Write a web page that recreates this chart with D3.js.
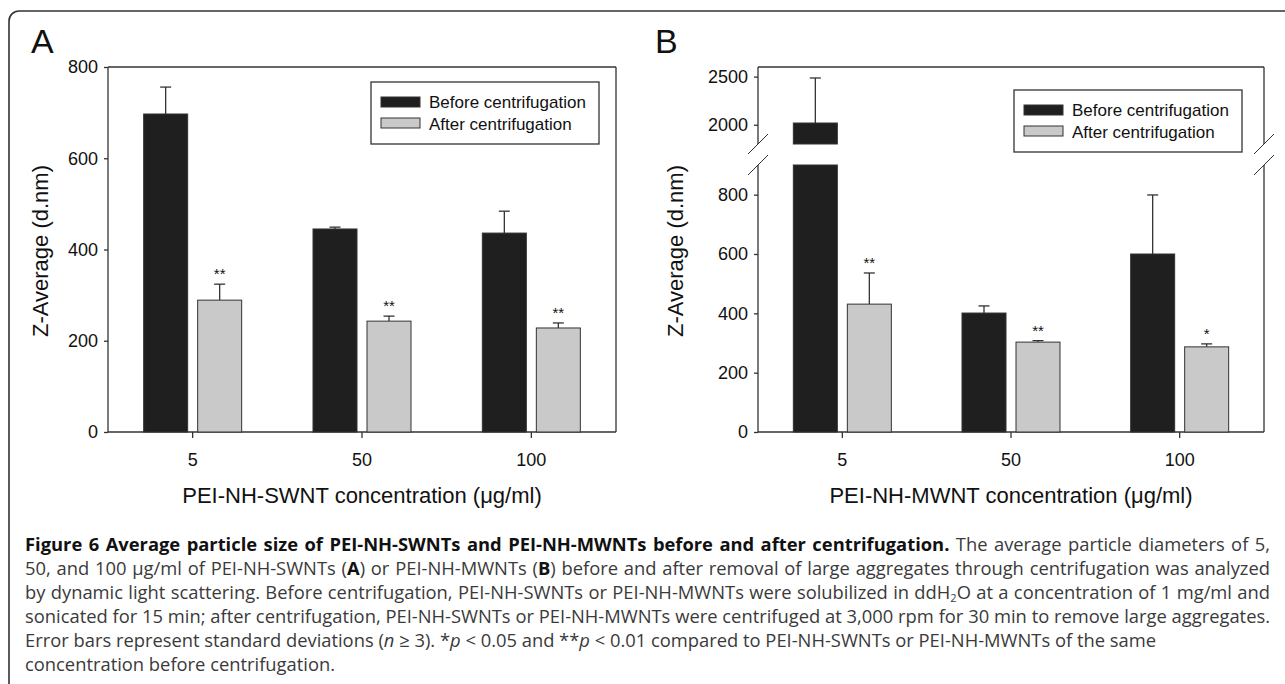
<!DOCTYPE html>
<html>
<head>
<meta charset="utf-8">
<script src="https://cdn.jsdelivr.net/npm/d3@7"></script>
<style>
  body { margin: 0; background: #fff; }
  svg { display: block; }
  text { font-family: Arial, "Liberation Sans", sans-serif; fill: #111; }
  .caption text { font-family: "Open Sans", sans-serif; }
</style>
</head>
<body>
<div class="container"></div>
<script>
/* globals d3 */

// categories and values
var concentrations = ['5', '50', '100']

var swntBefore = [697, 445, 436]
var swntBeforeSd = [59, 4, 48]
var swntAfter = [289, 243, 228]
var swntAfterSd = [35, 11, 11]
var swntStars = ['**', '**', '**']

var mwntBefore = [2018, 401, 600]
var mwntBeforeSd = [468, 24, 199]
var mwntAfter = [431, 303, 287]
var mwntAfterSd = [105, 5, 10]
var mwntStars = ['**', '**', '*']

var swntTicks = [0, 200, 400, 600, 800]
var mwntLowTicks = [0, 200, 400, 600, 800]
var mwntHighTicks = [2000, 2500]

var legendLabels = ['Before centrifugation', 'After centrifugation']

var captionLines = [
  [{ t: 'Figure 6 Average particle size of PEI-NH-SWNTs and PEI-NH-MWNTs before and after centrifugation.', b: true }, { t: ' The average particle diameters of 5,' }],
  [{ t: '50, and 100 μg/ml of PEI-NH-SWNTs (' }, { t: 'A', b: true }, { t: ') or PEI-NH-MWNTs (' }, { t: 'B', b: true }, { t: ') before and after removal of large aggregates through centrifugation was analyzed' }],
  [{ t: 'by dynamic light scattering. Before centrifugation, PEI-NH-SWNTs or PEI-NH-MWNTs were solubilized in ddH' }, { t: '2', sub: true }, { t: 'O at a concentration of 1 mg/ml and' }],
  [{ t: 'sonicated for 15 min; after centrifugation, PEI-NH-SWNTs or PEI-NH-MWNTs were centrifuged at 3,000 rpm for 30 min to remove large aggregates.' }],
  [{ t: 'Error bars represent standard deviations (' }, { t: 'n', i: true }, { t: ' ≥ 3). *' }, { t: 'p', i: true }, { t: ' < 0.05 and **' }, { t: 'p', i: true }, { t: ' < 0.01 compared to PEI-NH-SWNTs or PEI-NH-MWNTs of the same' }],
  [{ t: 'concentration before centrifugation.' }]
]

;(function () {
  var colors = { before: '#1f1f1f', after: '#c9c9c9', line: '#333' }

  var svg = d3.select('.container')
    .append('svg')
    .attr('width', 1285)
    .attr('height', 684)

  // outer rounded frame, runs off the right and bottom edges
  svg.append('rect')
    .attr('x', 9).attr('y', 11)
    .attr('width', 1320).attr('height', 720)
    .attr('rx', 10)
    .attr('fill', 'none')
    .attr('stroke', colors.line)
    .attr('stroke-width', 1.6)

  var panelA = {
    letter: 'A', letterX: 31, left: 108, right: 616, top: 67, bottom: 432,
    before: swntBefore, beforeSd: swntBeforeSd, after: swntAfter, afterSd: swntAfterSd,
    stars: swntStars, xTitle: 'PEI-NH-SWNT concentration (μg/ml)', yTitleX: 40,
    legend: { x: 371, y: 82 }
  }
  var panelB = {
    letter: 'B', letterX: 655, left: 758, right: 1264, top: 67, bottom: 432,
    before: mwntBefore, beforeSd: mwntBeforeSd, after: mwntAfter, afterSd: mwntAfterSd,
    stars: mwntStars, xTitle: 'PEI-NH-MWNT concentration (μg/ml)', yTitleX: 675,
    legend: { x: 1014, y: 90 },
    breakTop: 144, breakBottom: 165
  }

  // panel A: one linear axis
  var yA = d3.scaleLinear().domain([0, 800]).range([panelA.bottom, panelA.top])
  drawPanel(panelA, function (v) { return yA(v) }, [{ scale: yA, ticks: swntTicks }], null)

  // panel B: broken axis, lower 0-900 and upper 1800-2600
  var yLow = d3.scaleLinear().domain([0, 900]).range([panelB.bottom, panelB.breakBottom])
  var yHigh = d3.scaleLinear().domain([1800, 2600]).range([panelB.breakTop, panelB.top])
  drawPanel(panelB, function (v) { return v > 900 ? yHigh(v) : yLow(v) },
    [{ scale: yLow, ticks: mwntLowTicks }, { scale: yHigh, ticks: mwntHighTicks }],
    { low: yLow, high: yHigh })

  function drawPanel (p, yv, axes, broken) {
    var g = svg.append('g')
    var x = d3.scaleBand().domain(concentrations).range([p.left, p.right])
    var barW = 44
    var gap = 5

    g.append('text')
      .attr('x', p.letterX).attr('y', 53)
      .style('font-size', '34px')
      .text(p.letter)

    // plot frame (split on both sides when the axis is broken)
    var frame = g.append('g')
      .attr('fill', 'none')
      .attr('stroke', colors.line)
      .attr('stroke-width', 1.3)
    frame.append('line').attr('x1', p.left).attr('x2', p.right).attr('y1', p.top).attr('y2', p.top)
    frame.append('line').attr('x1', p.left).attr('x2', p.right).attr('y1', p.bottom).attr('y2', p.bottom)
    ;[p.left, p.right].forEach(function (sx) {
      if (broken) {
        frame.append('line').attr('x1', sx).attr('x2', sx).attr('y1', p.top).attr('y2', p.breakTop)
        frame.append('line').attr('x1', sx).attr('x2', sx).attr('y1', p.breakBottom).attr('y2', p.bottom)
        ;[p.breakTop, p.breakBottom].forEach(function (sy) {
          frame.append('line')
            .attr('x1', sx - 10).attr('y1', sy + 10)
            .attr('x2', sx + 10).attr('y2', sy - 10)
            .attr('stroke-width', 1)
        })
      } else {
        frame.append('line').attr('x1', sx).attr('x2', sx).attr('y1', p.top).attr('y2', p.bottom)
      }
    })

    // y axes
    axes.forEach(function (a) {
      var ax = g.append('g')
        .attr('transform', 'translate(' + p.left + ',0)')
        .call(d3.axisLeft(a.scale).tickValues(a.ticks).tickFormat(d3.format('d')).tickSize(4).tickPadding(6))
      ax.select('.domain').remove()
      ax.selectAll('.tick line').attr('stroke', colors.line).attr('stroke-width', 1.3)
      ax.selectAll('.tick text').style('font-size', '18px').attr('fill', '#111')
        .attr('font-family', 'Arial, "Liberation Sans", sans-serif')
    })

    // x axis
    var xa = g.append('g')
      .attr('transform', 'translate(0,' + p.bottom + ')')
      .call(d3.axisBottom(x).tickSize(6).tickPadding(15))
    xa.select('.domain').remove()
    xa.selectAll('.tick line').attr('stroke', colors.line).attr('stroke-width', 1.3)
    xa.selectAll('.tick text').style('font-size', '18px').attr('fill', '#111')
      .attr('font-family', 'Arial, "Liberation Sans", sans-serif')

    g.append('text')
      .attr('transform', 'translate(' + p.yTitleX + ',' + 251 + ') rotate(-90)')
      .attr('text-anchor', 'middle')
      .attr('dy', '0.35em')
      .style('font-size', '22px')
      .text('Z-Average (d.nm)')

    g.append('text')
      .attr('x', (p.left + p.right) / 2).attr('y', 503)
      .attr('text-anchor', 'middle')
      .style('font-size', '22px')
      .text(p.xTitle)

    // bars
    var series = [
      { vals: p.before, sd: p.beforeSd, fill: colors.before, off: -gap - barW },
      { vals: p.after, sd: p.afterSd, fill: colors.after, off: gap }
    ]
    series.forEach(function (s) {
      concentrations.forEach(function (c, i) {
        var cx = x(c) + x.bandwidth() / 2
        var x0 = cx + s.off
        var v = s.vals[i]
        var errTop = yv(v + s.sd[i])
        // error bar, upper half only
        g.append('line')
          .attr('x1', x0 + barW / 2).attr('x2', x0 + barW / 2)
          .attr('y1', yv(v)).attr('y2', errTop)
          .attr('stroke', colors.line).attr('stroke-width', 1.3)
        g.append('line')
          .attr('x1', x0 + barW / 2 - 5.5).attr('x2', x0 + barW / 2 + 5.5)
          .attr('y1', errTop).attr('y2', errTop)
          .attr('stroke', colors.line).attr('stroke-width', 1.3)

        if (broken && v > 900) {
          g.append('rect')
            .attr('x', x0).attr('width', barW)
            .attr('y', broken.high(v)).attr('height', broken.high(1800) - broken.high(v))
            .attr('fill', s.fill).attr('stroke', colors.line).attr('stroke-width', 1)
          g.append('rect')
            .attr('x', x0).attr('width', barW)
            .attr('y', broken.low(900)).attr('height', broken.low(0) - broken.low(900))
            .attr('fill', s.fill).attr('stroke', colors.line).attr('stroke-width', 1)
        } else {
          g.append('rect')
            .attr('x', x0).attr('width', barW)
            .attr('y', yv(v)).attr('height', yv(0) - yv(v))
            .attr('fill', s.fill).attr('stroke', colors.line).attr('stroke-width', 1)
        }

        if (s.fill === colors.after) {
          g.append('text')
            .attr('x', x0 + barW / 2).attr('y', errTop - 5)
            .attr('text-anchor', 'middle')
            .style('font-size', '15px')
            .attr('fill', '#333')
            .text(p.stars[i])
        }
      })
    })

    // legend
    var lg = g.append('g').attr('transform', 'translate(' + p.legend.x + ',' + p.legend.y + ')')
    lg.append('rect')
      .attr('width', 228).attr('height', 62)
      .attr('fill', '#fff').attr('stroke', colors.line).attr('stroke-width', 1.3)
    legendLabels.forEach(function (label, i) {
      lg.append('rect')
        .attr('x', 10).attr('y', 15 + i * 21)
        .attr('width', 39).attr('height', 10)
        .attr('fill', i === 0 ? colors.before : colors.after)
        .attr('stroke', colors.line).attr('stroke-width', 1)
      lg.append('text')
        .attr('x', 58).attr('y', 26 + i * 22)
        .style('font-size', '17px')
        .text(label)
    })
  }

  // caption, justified to the frame width like the printed page
  var cap = svg.append('g').attr('class', 'caption')
  var capLeft = 25
  var capWidth = 1245
  var lines = captionLines.map(function (parts, li) {
    var t = cap.append('text')
      .attr('x', capLeft).attr('y', 551 + li * 24)
      .style('font-size', '16px')
    parts.forEach(function (p, pi) {
      var ts = t.append('tspan').text(p.t)
        .attr('fill', p.b ? '#111' : '#3a3a3a')
      if (p.b) ts.style('font-weight', 'bold')
      if (p.i) ts.style('font-style', 'italic')
      if (p.sub) ts.attr('class', 'sub').attr('dy', 2.5)
      else if (pi > 0 && parts[pi - 1].sub) ts.attr('dy', -2.5)
    })
    return t
  })
  // scale the font so the longest full line fits, then stretch word gaps
  var ref = lines[3].node().getComputedTextLength()
  var size = 16 * capWidth / ref
  lines.forEach(function (t, li) {
    t.style('font-size', size + 'px')
    t.selectAll('tspan.sub').style('font-size', (size * 0.6) + 'px')
    if (li < 4) {
      var w = t.node().getComputedTextLength()
      var spaces = t.text().split(' ').length - 1
      t.attr('word-spacing', (capWidth - w) / spaces)
    }
  })
}())
</script>
</body>
</html>
